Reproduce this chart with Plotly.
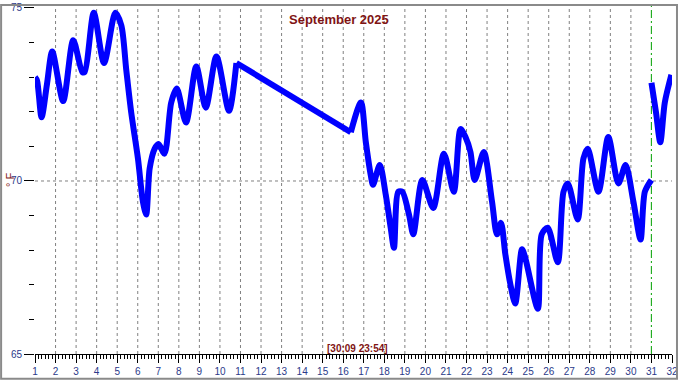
import plotly.graph_objects as go

# ---- data (day-of-month as fractional x, temperature in °F) ----
day_a = [1.00, 1.10, 1.32, 1.58, 1.84, 2.37, 2.86, 3.30, 3.42, 3.86, 4.36, 4.91,
         5.20, 5.44, 5.68, 6.01, 6.25, 6.41, 6.58, 6.82, 7.01, 7.30, 7.63, 7.90,
         8.35, 8.85, 9.31, 9.83, 10.44, 10.80]
temp_a = [73.00, 72.90, 71.84, 72.79, 73.74, 72.31, 74.07, 73.15, 73.15, 74.86, 73.41, 74.86,
          74.50, 73.22, 71.99, 70.65, 69.41, 69.03, 70.36, 70.93, 71.07, 70.79, 72.27, 72.67,
          71.69, 73.31, 72.12, 73.60, 72.03, 73.41]

# gap in records: straight connection
day_b = [10.80, 16.37]
temp_b = [73.41, 71.41]

day_c = [16.37, 16.86, 17.10, 17.34, 17.45, 17.78, 18.07, 18.31, 18.47, 18.68, 18.87,
         19.20, 19.41, 19.85, 20.38, 20.90, 21.38, 21.71, 21.95, 22.19, 22.40, 22.84,
         23.24, 23.48, 23.68, 23.89, 24.13, 24.37, 24.70, 24.85, 25.47, 25.66, 25.95,
         26.44, 26.72, 26.93, 27.41, 27.69, 27.90, 28.42, 28.90, 29.39, 29.74, 30.12,
         30.47, 30.68, 30.996]
temp_c = [71.41, 72.27, 71.12, 70.17, 69.89, 70.46, 69.60, 68.65, 68.07, 69.69, 69.69,
          69.03, 68.46, 70.03, 69.22, 70.79, 69.69, 71.50, 71.27, 70.84, 70.03, 70.84,
          69.41, 68.46, 68.79, 67.88, 67.03, 66.46, 68.03, 67.80, 66.31, 68.46, 68.65,
          67.65, 69.69, 69.93, 68.89, 70.65, 70.93, 69.69, 71.27, 69.93, 70.46, 69.41,
          68.31, 69.69, 70.03]

day_d = [31.00, 31.22, 31.43, 31.65, 31.97]
temp_d = [72.84, 71.99, 71.12, 72.27, 73.07]

day_ticks = list(range(1, 33))
grid_days = list(range(2, 31))
temp_ticks = [65, 70, 75]
REF_TEMP = 70
NOW_X = 30 + (23 + 54 / 60) / 24
TITLE = "September 2025"
STAMP = "[30:09 23:54]"
UNIT = "° F"

W, H = 680, 380
ML, MR, MT, MB = 35, 6, 2, 26
PW, PH = W - ML - MR, H - MT - MB
YMIN = 65
YMAX = YMIN + PH / 35.0

LINE = dict(color="#0000FF", width=6)
FONT = "Liberation Sans, Arial, sans-serif"
NAVY = "#2B3A8A"
DARKRED = "#7F1414"
GRID = dict(color="#808080", width=1, dash="3px,3px")

fig = go.Figure()
fig.add_trace(go.Scatter(x=day_a, y=temp_a, mode="lines", line=dict(shape="spline", smoothing=0.8, **LINE)))
fig.add_trace(go.Scatter(x=day_b, y=temp_b, mode="lines", line=dict(shape="linear", **LINE)))
fig.add_trace(go.Scatter(x=day_c, y=temp_c, mode="lines", line=dict(shape="spline", smoothing=0.8, **LINE)))
fig.add_trace(go.Scatter(x=day_d, y=temp_d, mode="lines", line=dict(shape="spline", smoothing=0.8, **LINE)))

for d in grid_days:
    fig.add_vline(x=d, line=GRID, layer="below")
fig.add_hline(y=REF_TEMP, line=GRID, layer="below")
fig.add_vline(x=NOW_X, line=dict(color="#00A000", width=1, dash="8px,3px,2px,3px"), layer="below")

fig.update_layout(
    width=W, height=H,
    margin=dict(l=ML, r=MR, t=MT, b=MB, pad=0),
    paper_bgcolor="white", plot_bgcolor="white",
    showlegend=False,
    font=dict(family=FONT, size=10, color=NAVY),
    xaxis=dict(
        range=[1, 32], tickmode="linear", tick0=1, dtick=1,
        showline=True, linecolor="black", linewidth=1,
        ticks="outside", ticklen=8, tickcolor="black", tickwidth=1,
        tickfont=dict(family=FONT, size=10, color=NAVY),
        ticklabeloverflow="allow",
        showgrid=False,
        minor=dict(tickmode="linear", dtick=1 / 6, tick0=1, ticks="outside", ticklen=4,
                   tickcolor="black", showgrid=False),
        zeroline=False, fixedrange=True,
    ),
    yaxis=dict(
        range=[YMIN, YMAX], tickmode="linear", tick0=65, dtick=5,
        showline=False, ticks="outside", ticklen=10, tickcolor="black", tickwidth=1,
        tickfont=dict(family=FONT, size=10, color=NAVY),
        ticklabeloverflow="allow",
        showgrid=False, zeroline=False,
        minor=dict(tickmode="linear", dtick=1, tick0=65, ticks="outside", ticklen=5,
                   tickcolor="black", showgrid=False),
        fixedrange=True,
    ),
    annotations=[
        dict(text=f"<b>{TITLE}</b>", xref="paper", yref="paper", x=(340 - ML) / PW, y=1 - (16 - MT) / PH,
             xanchor="center", yanchor="middle", showarrow=False,
             font=dict(family=FONT, size=13, color=DARKRED)),
        dict(text=f"<b>{STAMP}</b>", xref="paper", yref="paper", x=(359 - ML) / PW, y=1 - (348 - MT) / PH,
             xanchor="center", yanchor="middle", showarrow=False,
             font=dict(family=FONT, size=10, color=DARKRED)),
        dict(text=UNIT, xref="paper", yref="paper", x=(10 - ML) / PW, y=0.5,
             xanchor="center", yanchor="middle", showarrow=False, textangle=-90,
             font=dict(family=FONT, size=11, color=DARKRED)),
    ],
)
fig.add_shape(type="rect", xref="paper", yref="paper",
              x0=-(ML - 1) / PW, x1=(W - 1 - ML) / PW,
              y0=1 - (H - 1 - MT) / PH, y1=1 + (MT - 1) / PH,
              line=dict(color="#8A8A8A", width=2), fillcolor="rgba(0,0,0,0)", layer="above")

fig.write_html("out.html")
